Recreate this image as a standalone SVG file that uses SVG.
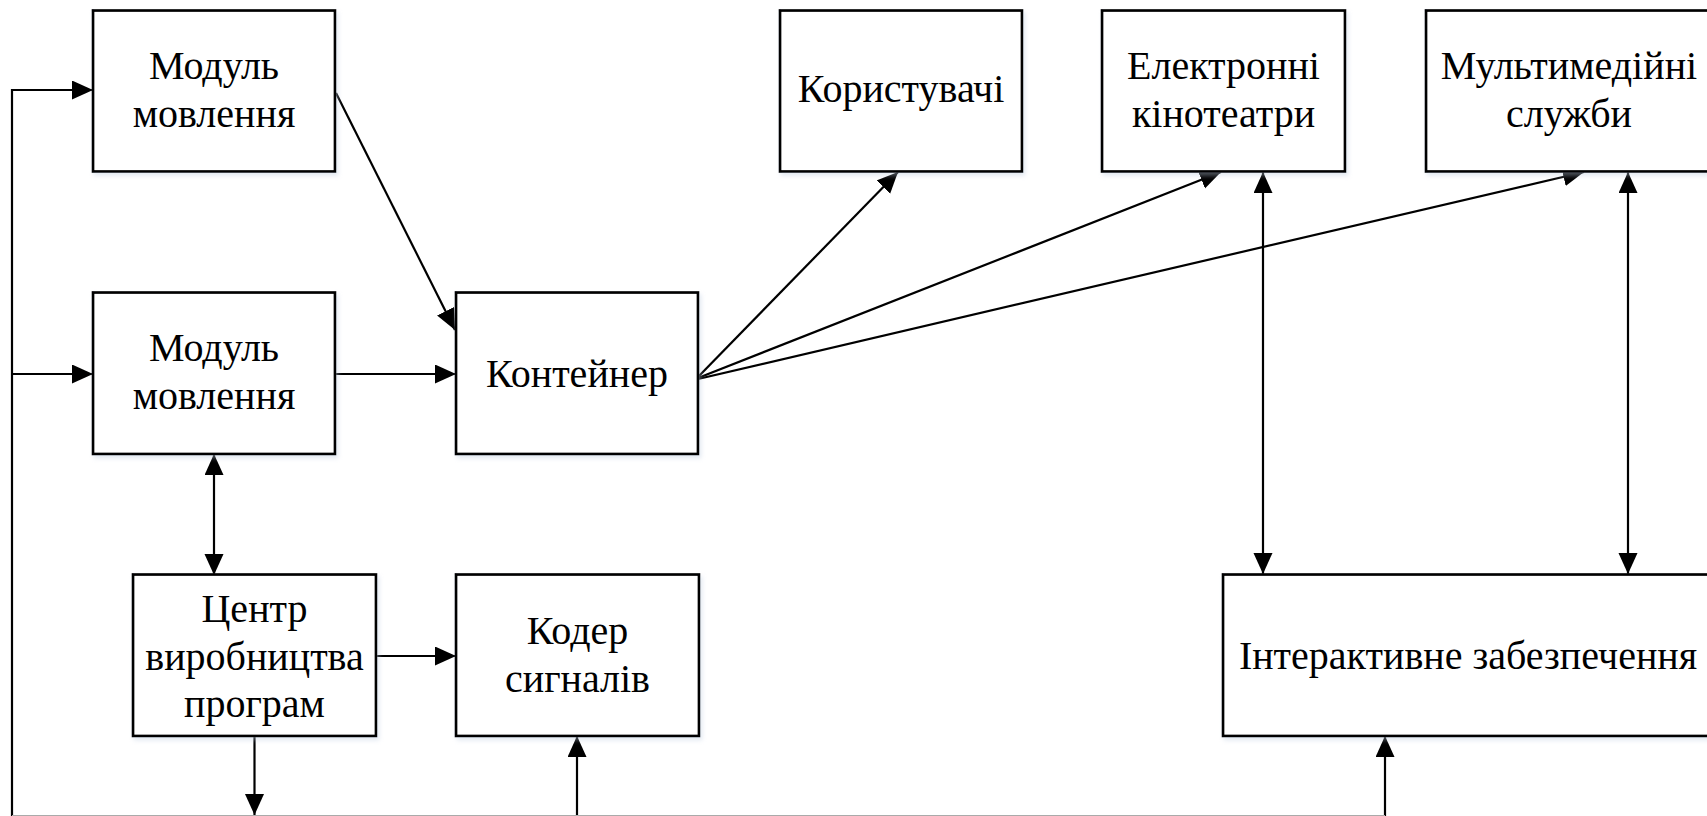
<svg xmlns="http://www.w3.org/2000/svg" width="1707" height="816" viewBox="0 0 1707 816">
<style>
  .box{fill:#fff;stroke:#000;stroke-width:2.7;filter:url(#sh)}
  .lbl{font-size:40px;fill:#000;text-anchor:middle}
  .ln{fill:none;stroke:#000;stroke-width:2.2}
  .a{marker-end:url(#ah)}
  .d{marker-start:url(#ah);marker-end:url(#ah)}
</style>
<defs>
  <marker id="ah" markerUnits="userSpaceOnUse" markerWidth="23" markerHeight="21" refX="21" refY="9.5" orient="auto-start-reverse" viewBox="0 0 23 21">
    <path d="M0,0 L21,9.5 L0,19 z" fill="#000"/>
  </marker>
  <filter id="sh" x="-5%" y="-5%" width="115%" height="120%">
    <feDropShadow dx="2" dy="3" stdDeviation="2" flood-color="#b9c9df" flood-opacity="0.4"/>
  </filter>
</defs>
<rect width="1707" height="816" fill="#fff"/>

<g id="connectors">
  <path class="ln a" d="M12,816 V90 H93"/>
  <path class="ln a" d="M12,374 H93"/>
  <path class="ln a" d="M336,93 L455,330"/>
  <path class="ln a" d="M335,374 H456"/>
  <path class="ln d" d="M214,454 V575"/>
  <path class="ln a" d="M376,656 H456"/>
  <path class="ln a" d="M254.5,736 V815"/>
  <path class="ln a" d="M577,816 V736"/>
  <path class="ln a" d="M698,377 L898,172"/>
  <path class="ln a" d="M698,378 L1221,172"/>
  <path class="ln a" d="M698,379 L1584,172"/>
  <path class="ln d" d="M1263,172 V574"/>
  <path class="ln d" d="M1628,172 V574"/>
  <path class="ln a" d="M1385,816 V736"/>
  <path d="M12,815.5 H1385" fill="none" stroke="#aaa" stroke-width="1"/>
</g>

<g id="n-module1">
  <rect class="box" x="93" y="10.5" width="242" height="161"/>
  <text class="lbl" font-family="Liberation Serif" x="214" y="79">Модуль</text>
  <text class="lbl" font-family="Liberation Serif" x="214" y="126.5">мовлення</text>
</g>
<g id="n-module2">
  <rect class="box" x="93" y="292.5" width="242" height="161.5"/>
  <text class="lbl" font-family="Liberation Serif" x="214" y="361">Модуль</text>
  <text class="lbl" font-family="Liberation Serif" x="214" y="408.5">мовлення</text>
</g>
<g id="n-container">
  <rect class="box" x="456" y="292.5" width="242" height="161.5"/>
  <text class="lbl" font-family="Liberation Serif" x="577" y="387">Контейнер</text>
</g>
<g id="n-users">
  <rect class="box" x="780" y="10.5" width="242" height="161"/>
  <text class="lbl" font-family="Liberation Serif" x="901" y="102">Користувачі</text>
</g>
<g id="n-cinema">
  <rect class="box" x="1102" y="10.5" width="243" height="161"/>
  <text class="lbl" font-family="Liberation Serif" x="1223.5" y="79">Електронні</text>
  <text class="lbl" font-family="Liberation Serif" x="1223.5" y="126.5">кінотеатри</text>
</g>
<g id="n-multimedia">
  <rect class="box" x="1426" y="10.5" width="290" height="161"/>
  <text class="lbl" font-family="Liberation Serif" x="1569" y="79">Мультимедійні</text>
  <text class="lbl" font-family="Liberation Serif" x="1569" y="126.5">служби</text>
</g>
<g id="n-center">
  <rect class="box" x="133" y="574.5" width="243" height="161.5"/>
  <text class="lbl" font-family="Liberation Serif" x="254.5" y="621.5">Центр</text>
  <text class="lbl" font-family="Liberation Serif" x="254.5" y="669.5">виробництва</text>
  <text class="lbl" font-family="Liberation Serif" x="254.5" y="716.5">програм</text>
</g>
<g id="n-coder">
  <rect class="box" x="456" y="574.5" width="243" height="161.5"/>
  <text class="lbl" font-family="Liberation Serif" x="577.5" y="644">Кодер</text>
  <text class="lbl" font-family="Liberation Serif" x="577.5" y="691.5">сигналів</text>
</g>
<g id="n-interactive">
  <rect class="box" x="1223" y="574.5" width="495" height="161.5"/>
  <text class="lbl" font-family="Liberation Serif" x="1468" y="669">Інтерактивне забезпечення</text>
</g>
</svg>
